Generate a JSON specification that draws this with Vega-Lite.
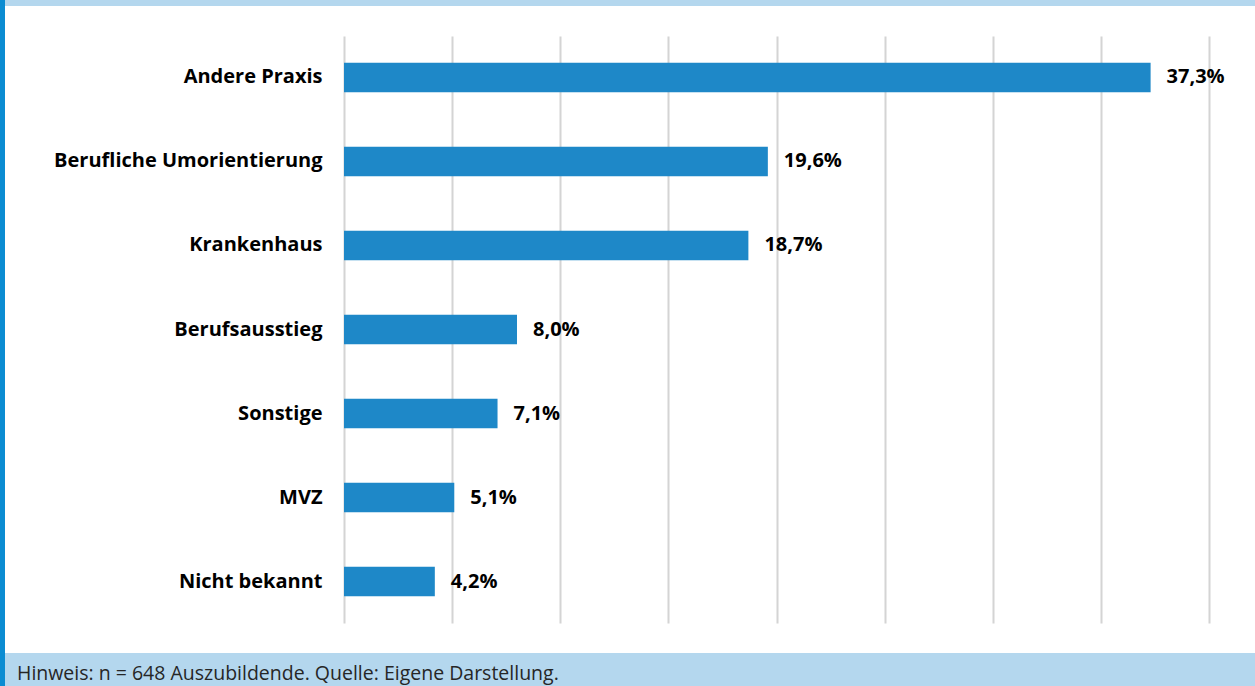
{
  "$schema": "https://vega.github.io/schema/vega-lite/v6.json",
  "padding": 0,
  "background": "white",
  "spacing": 0,
  "config": {
    "view": {"stroke": null},
    "font": "Open Sans"
  },
  "datasets": {
    "verbleib": [
      {"kategorie": "Andere Praxis", "anteil": 0.373, "label": "37,3%"},
      {"kategorie": "Berufliche Umorientierung", "anteil": 0.196, "label": "19,6%"},
      {"kategorie": "Krankenhaus", "anteil": 0.187, "label": "18,7%"},
      {"kategorie": "Berufsausstieg", "anteil": 0.080, "label": "8,0%"},
      {"kategorie": "Sonstige", "anteil": 0.071, "label": "7,1%"},
      {"kategorie": "MVZ", "anteil": 0.051, "label": "5,1%"},
      {"kategorie": "Nicht bekannt", "anteil": 0.042, "label": "4,2%"}
    ],
    "streifen": [{"teil": 1}]
  },
  "hconcat": [
    {
      "width": 5,
      "height": 686,
      "data": {"name": "streifen"},
      "view": {"fill": "#0b8cd2", "stroke": null},
      "mark": {"type": "rect", "color": "#0b8cd2"},
      "encoding": {}
    },
    {
      "spacing": 30,
      "align": "none",
      "vconcat": [
        {
          "width": 1250,
          "height": 6,
          "data": {"name": "streifen"},
          "view": {"fill": "#b4d7ee", "stroke": null},
          "mark": {"type": "rect", "color": "#b4d7ee"},
          "encoding": {}
        },
        {
          "width": 1250,
          "height": 587,
          "data": {"name": "verbleib"},
          "encoding": {
            "y": {
              "field": "kategorie",
              "type": "nominal",
              "sort": "-x",
              "scale": {"paddingInner": 0.65, "paddingOuter": 0.319},
              "axis": {
                "title": null,
                "ticks": false,
                "domain": false,
                "grid": false,
                "offset": -317,
                "labelFontSize": 20,
                "labelFontWeight": "bold",
                "labelColor": "#000000",
                "labelPadding": 0,
                "labelLimit": 400
              }
            },
            "x": {
              "field": "anteil",
              "type": "quantitative",
              "scale": {"domain": [0, 0.4], "nice": false, "range": [339, 1204]},
              "axis": {
                "title": null,
                "values": [0, 0.05, 0.1, 0.15, 0.2, 0.25, 0.3, 0.35, 0.4],
                "labels": false,
                "ticks": false,
                "domain": false,
                "grid": true,
                "gridColor": "#d4d4d4",
                "gridWidth": 2
              }
            }
          },
          "layer": [
            {"mark": {"type": "bar", "color": "#1e88c8"}},
            {
              "mark": {
                "type": "text",
                "align": "left",
                "baseline": "middle",
                "dx": 16,
                "fontSize": 20,
                "fontWeight": "bold",
                "color": "#000000"
              },
              "encoding": {"text": {"field": "label"}}
            }
          ]
        },
        {
          "width": 1250,
          "height": 33,
          "data": {"name": "streifen"},
          "view": {"fill": "#b4d7ee", "stroke": null},
          "mark": {"type": "rect", "color": "#b4d7ee"},
          "encoding": {},
          "title": {
            "text": "Hinweis: n = 648 Auszubildende. Quelle: Eigene Darstellung.",
            "orient": "bottom",
            "anchor": "start",
            "frame": "group",
            "offset": -6,
            "baseline": "alphabetic",
            "dx": 12,
            "fontSize": 19.5,
            "fontWeight": "normal",
            "color": "#262626",
            "font": "Open Sans"
          }
        }
      ]
    }
  ]
}
